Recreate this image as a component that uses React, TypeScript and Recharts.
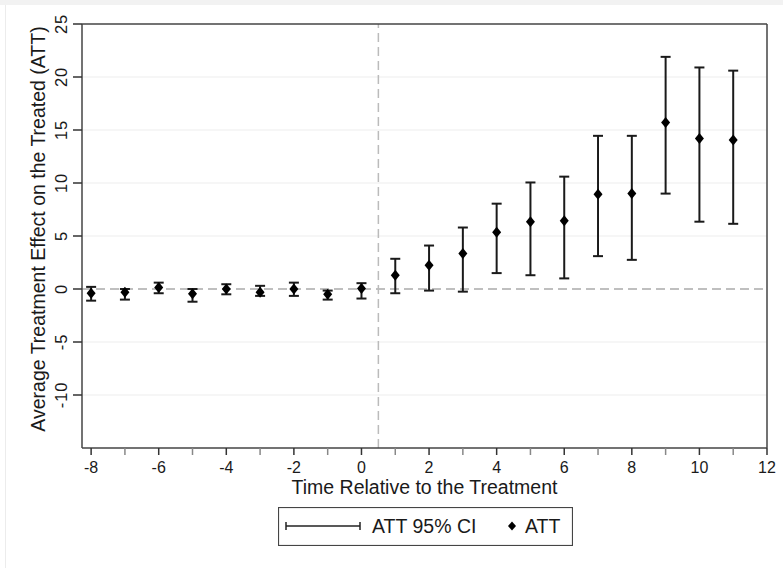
import React from "react";
import {
  ComposedChart,
  ErrorBar,
  ReferenceLine,
  Scatter,
  XAxis,
  YAxis,
} from "recharts";

// event-time periods relative to treatment
const periods = [-8, -7, -6, -5, -4, -3, -2, -1, 0, 1, 2, 3, 4, 5, 6, 7, 8, 9, 10, 11];
const att = [
  -0.4, -0.3, 0.15, -0.45, 0, -0.3, 0, -0.5, 0.05, 1.3, 2.25, 3.35, 5.35, 6.35,
  6.45, 8.95, 9.0, 15.7, 14.2, 14.05,
];
const ciLow = [
  -1.1, -1.0, -0.4, -1.2, -0.5, -0.65, -0.65, -1.0, -0.9, -0.4, -0.15, -0.25,
  1.5, 1.3, 1.0, 3.1, 2.75, 9.0, 6.35, 6.15,
];
const ciHigh = [
  0.2, 0.0, 0.6, 0.0, 0.45, 0.3, 0.6, -0.15, 0.55, 2.85, 4.1, 5.8, 8.05, 10.05,
  10.6, 14.45, 14.45, 21.9, 20.9, 20.6,
];
const xTicks = [-8, -7, -6, -5, -4, -3, -2, -1, 0, 1, 2, 3, 4, 5, 6, 7, 8, 9, 10, 11, 12];
const yTicks = [-10, -5, 0, 5, 10, 15, 20, 25];
const gridLines = [-10, -5, 5, 10, 15, 20];

const data = periods.map((t, i) => ({
  t,
  att: att[i],
  err: [att[i] - ciLow[i], ciHigh[i] - att[i]],
}));

const FONT = '"Liberation Sans", Arial, sans-serif';
const FRAME = "#454545";
const PLOT_BOTTOM = 448;

const Diamond = (props: any) => {
  const { cx, cy } = props;
  if (cx == null || cy == null) return null;
  return (
    <polygon
      points={`${cx},${cy - 5.5} ${cx + 4.5},${cy} ${cx},${cy + 5.5} ${cx - 4.5},${cy}`}
      fill="#000"
    />
  );
};

const XTick = (props: any) => {
  const { x, payload } = props;
  const v = payload.value;
  const major = v % 2 === 0;
  return (
    <g>
      <line
        x1={x}
        x2={x}
        y1={PLOT_BOTTOM}
        y2={PLOT_BOTTOM + 7}
        stroke={major ? "#333" : "#888"}
        strokeWidth={1.5}
      />
      {major && (
        <text x={x} y={PLOT_BOTTOM + 25} textAnchor="middle" fontSize={16} fontFamily={FONT} fill="#1a1a1a">
          {v}
        </text>
      )}
    </g>
  );
};

const YTick = (props: any) => {
  const { y, payload } = props;
  const tx = 67;
  return (
    <g>
      <line x1={73} x2={82} y1={y} y2={y} stroke="#333" strokeWidth={1.5} />
      <text
        x={tx}
        y={y}
        transform={`rotate(-90, ${tx}, ${y})`}
        textAnchor="middle"
        fontSize={16.5}
        letterSpacing={0.8}
        fontFamily={FONT}
        fill="#1a1a1a"
      >
        {payload.value}
      </text>
    </g>
  );
};

function Legend() {
  return (
    <svg
      width={295}
      height={39}
      style={{ position: "absolute", left: 278, top: 507 }}
    >
      <rect x={0.5} y={0.5} width={294} height={38} fill="#fff" stroke={FRAME} strokeWidth={1.2} />
      <line x1={8} x2={82} y1={19} y2={19} stroke="#222" strokeWidth={1.5} />
      <line x1={8} x2={8} y1={15} y2={23} stroke="#222" strokeWidth={1.5} />
      <line x1={82} x2={82} y1={15} y2={23} stroke="#222" strokeWidth={1.5} />
      <text x={94} y={26} fontSize={19.5} fontFamily={FONT} fill="#1a1a1a">
        ATT 95% CI
      </text>
      <polygon points="234,14.5 238,19 234,23.5 230,19" fill="#000" />
      <text x={247} y={26} fontSize={19.5} fontFamily={FONT} fill="#1a1a1a">
        ATT
      </text>
    </svg>
  );
}

export default function App() {
  return (
    <div
      style={{
        position: "absolute",
        left: 0,
        top: 0,
        width: 783,
        height: 568,
        background: "#fff",
        overflow: "hidden",
      }}
    >
      <div style={{ position: "absolute", left: 0, top: 0, width: 783, height: 5, background: "#f2f2f2" }} />
      <div
        style={{
          position: "absolute",
          left: 5,
          top: 5,
          width: 778,
          height: 563,
          borderLeft: "1.5px solid #ececec",
        }}
      />
      <div style={{ position: "absolute", left: 0, top: 0 }}>
        <ComposedChart
          width={783}
          height={568}
          data={data}
          margin={{ top: 24, right: 16, left: 8, bottom: 70 }}
        >
          {gridLines.map((g) => (
            <ReferenceLine key={g} y={g} stroke="#ededed" strokeWidth={1.2} />
          ))}
          <ReferenceLine y={0} stroke="#aaa" strokeWidth={1.5} strokeDasharray="9 5" />
          <ReferenceLine x={0.5} stroke="#bbb" strokeWidth={1.5} strokeDasharray="9 5" />
          <ReferenceLine y={25} stroke={FRAME} strokeWidth={1.5} />
          <ReferenceLine x={12} stroke={FRAME} strokeWidth={1.5} />
          <XAxis
            type="number"
            dataKey="t"
            domain={[-8.27, 12]}
            ticks={xTicks}
            interval={0}
            allowDataOverflow
            height={50}
            axisLine={{ stroke: FRAME, strokeWidth: 1.5 }}
            tickLine={false}
            tick={<XTick />}
            label={{
              content: () => (
                <text
                  x={424.5}
                  y={494}
                  textAnchor="middle"
                  fontSize={19.5}
                  fontFamily={FONT}
                  fill="#1a1a1a"
                >
                  Time Relative to the Treatment
                </text>
              ),
            }}
          />
          <YAxis
            type="number"
            domain={[-15, 25]}
            ticks={yTicks}
            interval={0}
            allowDataOverflow
            width={74}
            axisLine={{ stroke: FRAME, strokeWidth: 1.5 }}
            tickLine={false}
            tick={<YTick />}
            label={{
              content: () => (
                <text
                  x={45}
                  y={229}
                  transform="rotate(-90, 45, 229)"
                  textAnchor="middle"
                  fontSize={19.5}
                  fontFamily={FONT}
                  fill="#1a1a1a"
                >
                  Average Treatment Effect on the Treated (ATT)
                </text>
              ),
            }}
          />
          <Scatter dataKey="att" shape={<Diamond />} isAnimationActive={false}>
            <ErrorBar
              dataKey="err"
              direction="y"
              width={5}
              stroke="#1a1a1a"
              strokeWidth={2}
              isAnimationActive={false}
            />
          </Scatter>
        </ComposedChart>
      </div>
      <Legend />
    </div>
  );
}
